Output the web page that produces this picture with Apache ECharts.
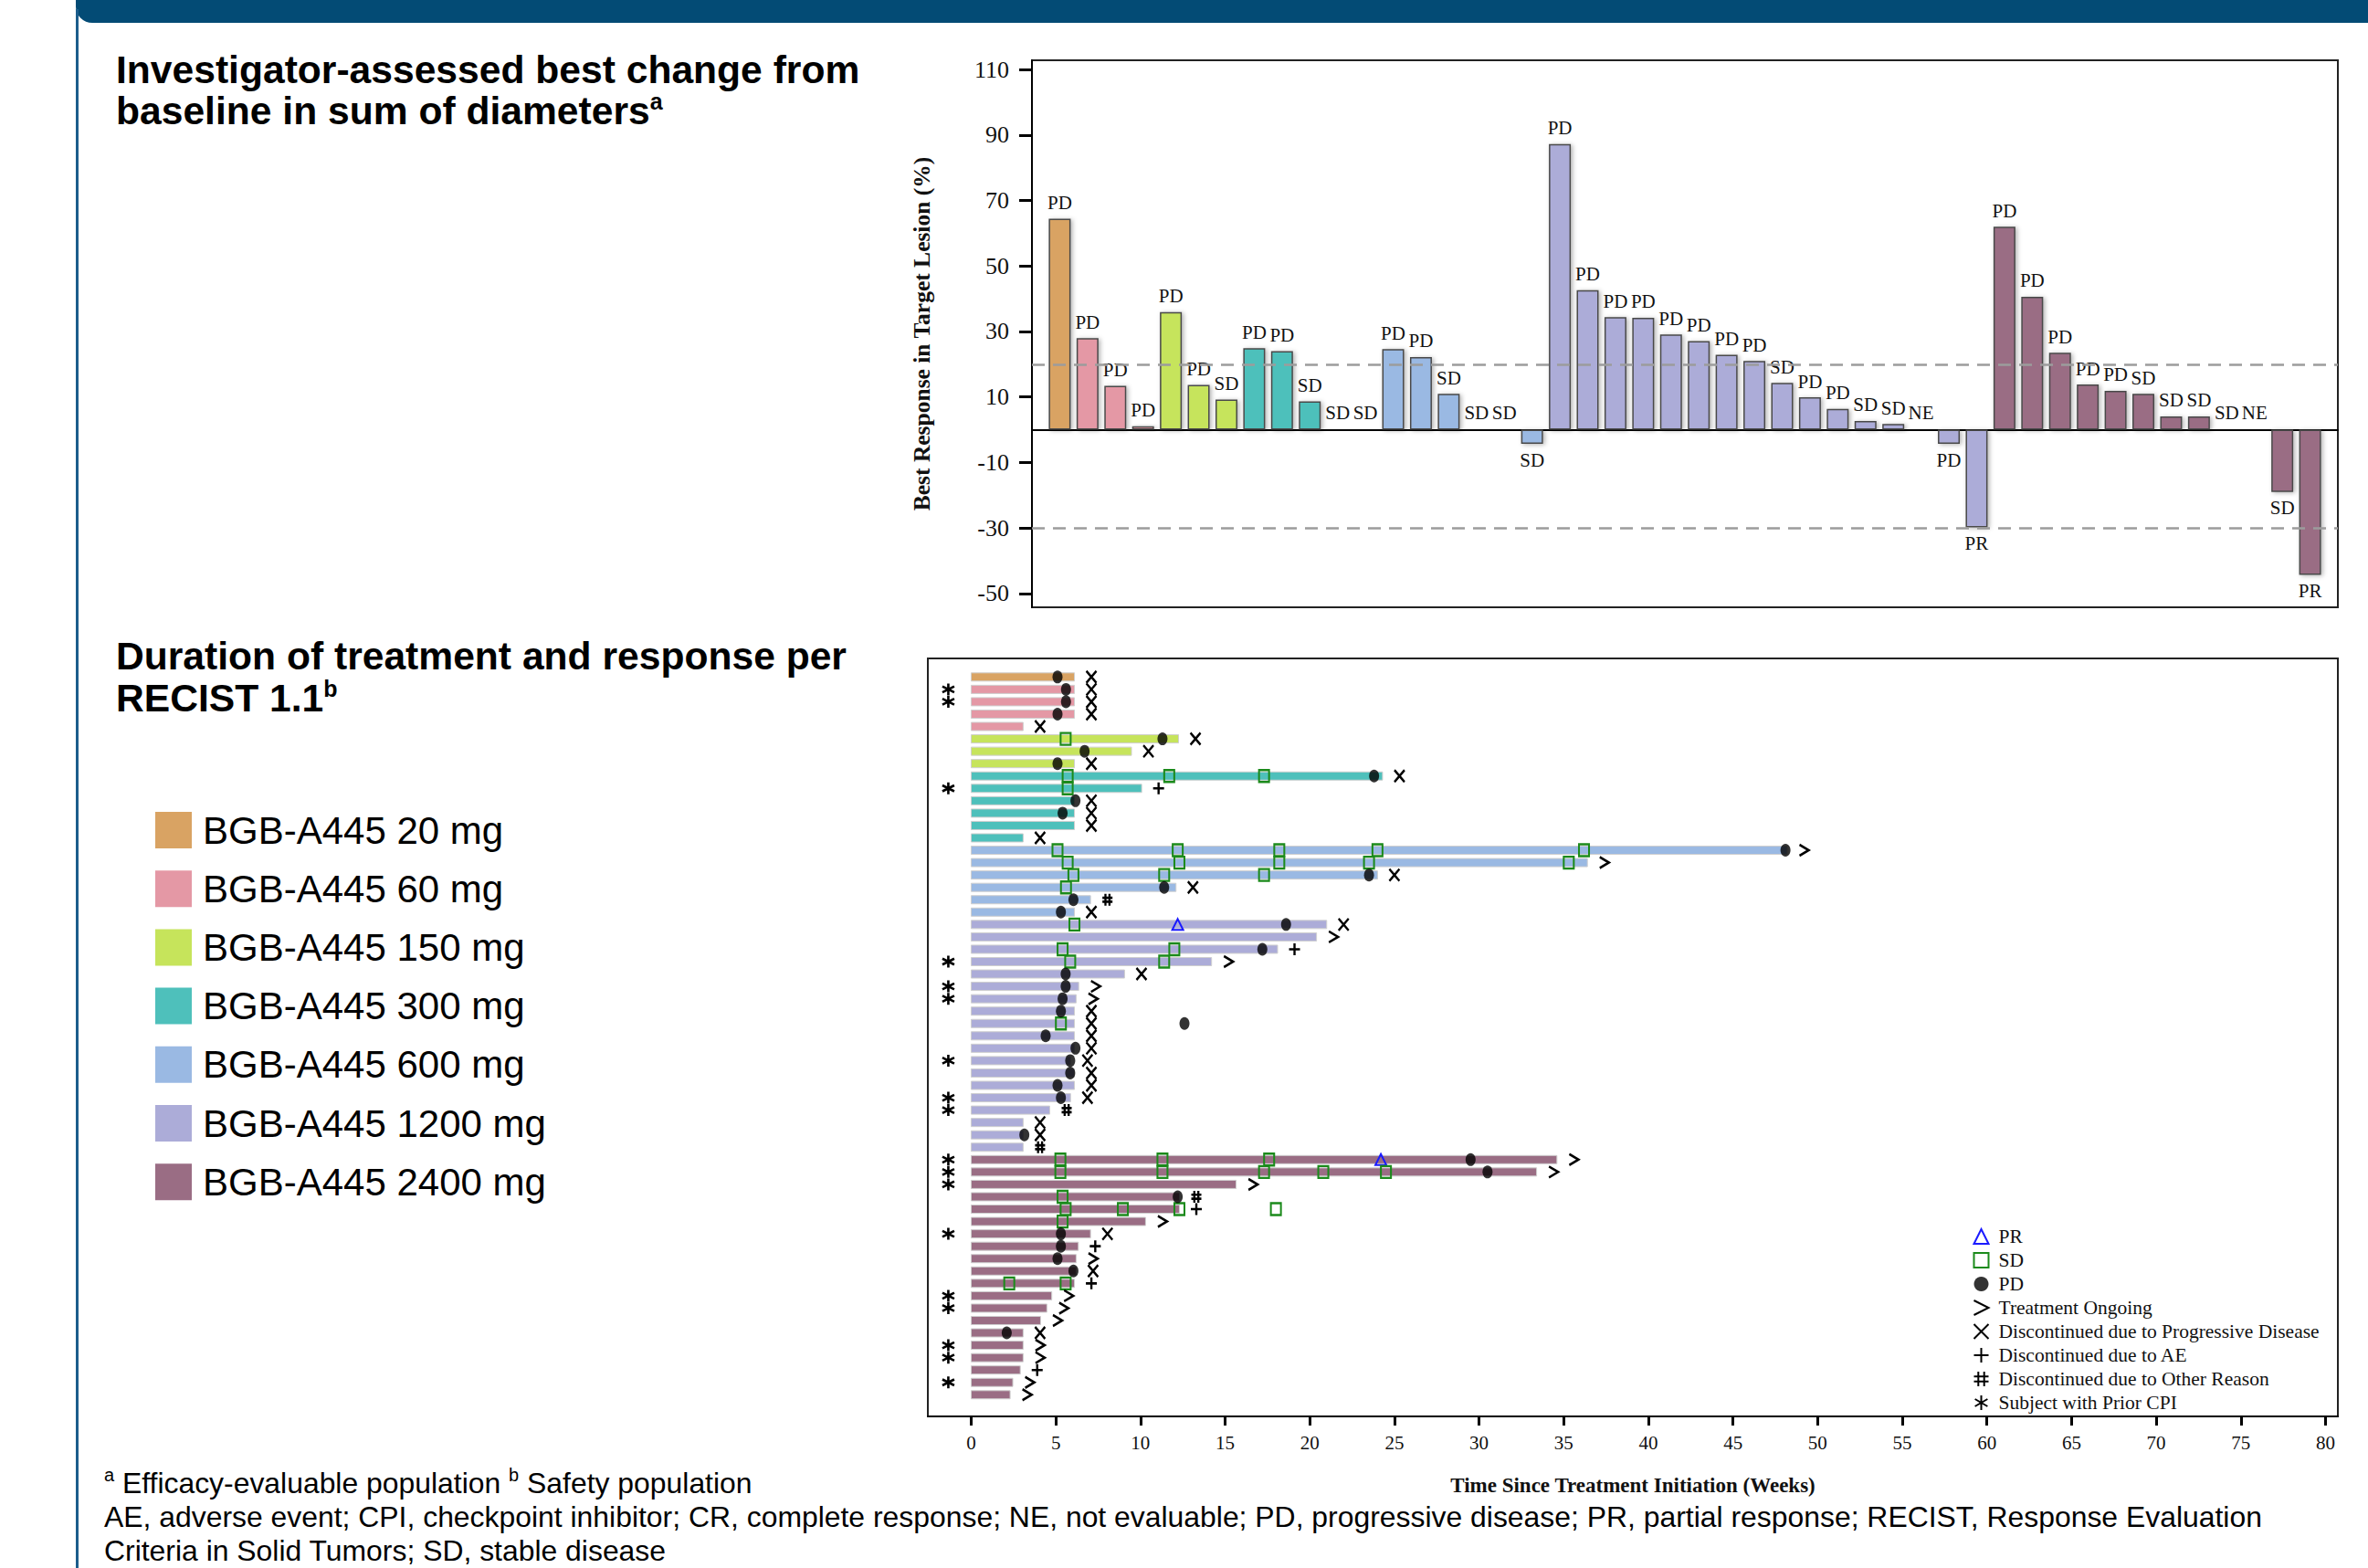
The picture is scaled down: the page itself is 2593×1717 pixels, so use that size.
<!DOCTYPE html>
<html><head><meta charset="utf-8">
<script src="https://cdn.jsdelivr.net/npm/echarts@6/dist/echarts.min.js"></script>
<style>html,body{margin:0;padding:0;background:#fff}#c{width:2593px;height:1717px}</style>
</head><body><div id="c"></div>
<script>
// ---------- categories ----------
const doseNames = ['BGB-A445 20 mg','BGB-A445 60 mg','BGB-A445 150 mg','BGB-A445 300 mg','BGB-A445 600 mg','BGB-A445 1200 mg','BGB-A445 2400 mg'];
const doseColors = ['#D9A363','#E498A5','#C6E45B','#4EC0BB','#9AB9E3','#ACACD8','#9A6D84'];

// ---------- waterfall (best change %) ----------
const wfValues = [64.4,28.0,13.4,1.1, 35.9,13.7,9.2, 24.9,24.0,8.7,0,0, 24.6,22.2,11.0,0,0,-4.3,
  87.2,42.6,34.4,34.2,29.1,27.1,22.9,21.0,14.3,9.9,6.4,2.7,1.8,0,-4.3,-29.8,
  62.0,40.6,23.5,13.8,11.9,11.0,4.1,4.1,0,0,-19.0,-44.3];
const wfResp = ['PD','PD','PD','PD','PD','PD','SD','PD','PD','SD','SD','SD','PD','PD','SD','SD','SD','SD',
  'PD','PD','PD','PD','PD','PD','PD','PD','SD','PD','PD','SD','SD','NE','PD','PR',
  'PD','PD','PD','PD','PD','SD','SD','SD','SD','NE','SD','PR'];
const wfDose = [0,1,1,1,2,2,2,3,3,3,3,3,4,4,4,4,4,4,
  5,5,5,5,5,5,5,5,5,5,5,5,5,5,5,5,
  6,6,6,6,6,6,6,6,6,6,6,6];
const wfTicks = [-50,-30,-10,10,30,50,70,90,110];
const wfRefLines = [20,-30];

// ---------- swimmer (weeks) ----------
const weekTicks = [0,5,10,15,20,25,30,35,40,45,50,55,60,65,70,75,80];
const swimDose = [0,1,1,1,1,2,2,2,3,3,3,3,3,3,4,4,4,4,4,4,
  5,5,5,5,5,5,5,5,5,5,5,5,5,5,5,5,5,5,5,
  6,6,6,6,6,6,6,6,6,6,6,6,6,6,6,6,6,6,6,6];
const swimWeeks = [6.1,6.1,6.1,6.1,3.07,12.25,9.47,6.1,24.3,10.07,6.1,6.1,6.1,3.07,48.2,36.4,24.0,12.1,7.05,6.1,
  21.0,20.4,18.1,14.2,9.06,6.35,6.2,6.1,6.1,6.1,6.1,5.87,6.1,6.1,5.87,4.64,3.07,3.07,3.07,
  34.6,33.4,15.65,12.3,12.3,10.3,7.05,6.33,6.2,6.2,6.1,4.76,4.47,4.1,3.07,3.07,3.07,2.9,2.46,2.3];
const swimEnd = ['X','X','X','X','X','X','X','X','X','+','X','X','X','X','>','>','X','X','#','X',
  'X','>','+','>','X','>','>','X','X','X','X','X','X','X','X','#','X','X','#',
  '>','>','>','#','+','>','X','+','>','X','+','>','>','>','X','>','>','+','>','>'];
const cpiRows = [2,3,10,24,26,27,32,35,36,40,41,42,46,51,52,55,56,58];
// [row, week]
const sdPoints = [[6,5.58],[9,5.7],[9,11.7],[9,17.3],[10,5.7],
  [15,5.1],[15,12.2],[15,18.2],[15,24.0],[15,36.2],
  [16,5.7],[16,12.3],[16,18.2],[16,23.5],[16,35.3],
  [17,6.04],[17,11.4],[17,17.3],[18,5.6],[21,6.1],[23,5.4],[23,12.0],[24,5.85],[24,11.4],[29,5.3],
  [40,5.27],[40,11.3],[40,17.6],[41,5.27],[41,11.3],[41,17.3],[41,20.8],[41,24.5],
  [43,5.4],[44,5.58],[44,8.96],[44,12.3],[44,18.0],[45,5.4],[50,2.25],[50,5.58]];
const pdPoints = [[1,5.1],[2,5.6],[3,5.6],[4,5.1],[6,11.3],[7,6.7],[8,5.1],[9,23.8],[11,6.16],[12,5.4],
  [15,48.1],[17,23.5],[18,11.4],[19,6.04],[20,5.3],[21,18.6],[23,17.2],[25,5.58],[26,5.58],[27,5.4],
  [28,5.3],[29,12.6],[30,4.4],[31,6.16],[32,5.85],[33,5.85],[34,5.1],[35,5.3],[38,3.14],
  [40,29.5],[41,30.5],[43,12.2],[46,5.3],[47,5.3],[48,5.1],[49,6.04],[54,2.1]];
const prPoints = [[21,12.2],[40,24.2]];

// ---------- styling ----------
const SERIF = 'Liberation Serif';
const SANS = 'Liberation Sans';
const endOffset = 1.0;    // end-of-treatment symbol sits one week after bar end
const cpiWeek = -1.35;    // prior-CPI column left of week 0
const endStyles = {
  '>': {name:'Treatment Ongoing', symbol:'path://M0,0L10,5L0,10', size:[10,12]},
  'X': {name:'Discontinued due to Progressive Disease', symbol:'path://M0,0L10,10M10,0L0,10', size:[11,13]},
  '+': {name:'Discontinued due to AE', symbol:'path://M5,0L5,10M0,5L10,5', size:[12,13]},
  '#': {name:'Discontinued due to Other Reason', symbol:'path://M3,0L3,10M7,0L7,10M0,3.3L10,3.3M0,6.7L10,6.7', size:[11,13]}
};

const chart = echarts.init(document.getElementById('c'), null, {renderer:'svg', width:2593, height:1717});

const wfSeries = doseNames.map((name, d) => ({
  type:'bar', name, xAxisIndex:0, yAxisIndex:0, barWidth:24, barGap:'-100%', z:3,
  itemStyle:{color:doseColors[d], borderColor:'#4a4a4a', borderWidth:1.5,
    shadowBlur:5, shadowColor:'rgba(0,0,0,0.3)', shadowOffsetX:2, shadowOffsetY:1},
  label:{show:true, fontFamily:SERIF, fontSize:21, color:'#111', distance:7,
    formatter: p => wfResp[p.data.slot - 1]},
  data: wfValues.map((v,i)=>({v,i})).filter(o=>wfDose[o.i]===d)
    .map(o=>({value:[o.i+1, o.v], slot:o.i+1, label:{position: o.v < 0 ? 'bottom' : 'top'}}))
}));
wfSeries[0].markLine = {
  silent:true, symbol:['none','none'], label:{show:false},
  lineStyle:{type:[14,9], color:'#9c9c9c', width:2.5},
  data: wfRefLines.map(v=>({yAxis:v}))
};

const strokeMark = (name, symbol, size, color, width, data) => ({
  type:'scatter', name, xAxisIndex:1, yAxisIndex:1, symbol, symbolSize:size, z:6,
  itemStyle:{color:'none', borderColor:color, borderWidth:width, opacity:1},
  data
});

const swimSeries = [{
  type:'custom', name:'swim', xAxisIndex:1, yAxisIndex:1, z:2,
  encode:{x:1, y:0},
  data: swimWeeks.map((w,i)=>[i+1, w, swimDose[i]]),
  renderItem:(params, api) => {
    const row = api.value(0), w = api.value(1), d = api.value(2);
    const p0 = api.coord([0, row]), p1 = api.coord([w, row]);
    const h = 9;
    return {type:'rect', shape:{x:p0[0], y:p0[1]-h/2, width:p1[0]-p0[0], height:h},
      style:{fill:doseColors[d], stroke:'#cfcfcf', lineWidth:1}};
  }
},
strokeMark('PR','path://M5,0L10,10L0,10Z',[12,12],'#1a1aff',2, prPoints.map(p=>[p[1],p[0]])),
strokeMark('SD','rect',[11,13],'#1b8a1b',2.2, sdPoints.map(p=>[p[1],p[0]])),
{type:'scatter', name:'PD', xAxisIndex:1, yAxisIndex:1, symbol:'circle', symbolSize:[11,14], z:7,
  itemStyle:{color:'#000'}, data: pdPoints.map(p=>[p[1],p[0]])}
];
['>','X','+','#'].forEach(code => {
  const s = endStyles[code];
  swimSeries.push(strokeMark(s.name, s.symbol, s.size, '#000', 2.5,
    swimWeeks.map((w,i)=> swimEnd[i]===code ? [w+endOffset, i+1] : null).filter(Boolean)));
});
swimSeries.push(strokeMark('Subject with Prior CPI','path://M5,0L5,10M0.7,2.5L9.3,7.5M0.7,7.5L9.3,2.5',[13,13],'#000',2.6,
  cpiRows.map(r=>[cpiWeek, r])));

const markerNames = ['PR','SD','PD','Treatment Ongoing','Discontinued due to Progressive Disease',
  'Discontinued due to AE','Discontinued due to Other Reason','Subject with Prior CPI'];

const option = {
  animation:false,
  backgroundColor:'#fff',
  grid:[
    {left:1130, top:66, width:1430, height:599, show:true, borderColor:'#222', borderWidth:2},
    {left:1016, top:721, width:1544, height:830, show:true, borderColor:'#222', borderWidth:2}
  ],
  xAxis:[
    {type:'value', gridIndex:0, min:0, max:47, splitLine:{show:false},
      axisLine:{show:true, onZero:true, lineStyle:{color:'#000', width:2}},
      axisTick:{show:false}, axisLabel:{show:false}},
    {type:'value', gridIndex:1, min:-2.56, max:80.73, splitLine:{show:false},
      axisLine:{show:true, onZero:false, lineStyle:{color:'#000', width:2}},
      axisTick:{show:true, customValues:weekTicks, length:10, lineStyle:{color:'#000', width:3}},
      axisLabel:{customValues:weekTicks, fontFamily:SERIF, fontSize:21, color:'#111', margin:18},
      name:'Time Since Treatment Initiation (Weeks)', nameLocation:'middle', nameGap:64,
      nameTextStyle:{fontFamily:SERIF, fontWeight:'bold', fontSize:23, color:'#111'}}
  ],
  yAxis:[
    {type:'value', gridIndex:0, min:-54.2, max:112.8, splitLine:{show:false},
      axisLine:{show:true, lineStyle:{color:'#000', width:2}},
      axisTick:{show:true, customValues:wfTicks, length:14, lineStyle:{color:'#000', width:3}},
      axisLabel:{customValues:wfTicks, fontFamily:SERIF, fontSize:26, color:'#111', margin:25},
      name:'Best Response in Target Lesion (%)', nameLocation:'middle', nameGap:108,
      nameTextStyle:{fontFamily:SERIF, fontWeight:'bold', fontSize:25.5, color:'#111'}},
    {type:'value', gridIndex:1, min:-0.5, max:60.75, inverse:true, show:false}
  ],
  legend:[
    {data:doseNames, orient:'vertical', left:170, top:888, padding:0, itemWidth:40, itemHeight:40, itemGap:22.2,
      icon:'rect', itemStyle:{borderWidth:0, shadowBlur:0},
      textStyle:{fontFamily:SANS, fontSize:42, color:'#000', padding:[0,0,0,7]}},
    {data:markerNames, orient:'vertical', left:2159, top:1343, padding:0, itemWidth:16, itemHeight:16, itemGap:4,
      textStyle:{fontFamily:SERIF, fontSize:21.5, lineHeight:21, color:'#111', padding:[0,0,0,6]}}
  ],
  graphic:[
    {type:'rect', shape:{x:83, y:-30, width:2530, height:55, r:[0,0,0,18]}, style:{fill:'#034b75'}},
    {type:'line', shape:{x1:84.5, y1:10, x2:84.5, y2:1717}, style:{stroke:'#1c5d8c', lineWidth:3}},
    {type:'text', x:127, y:53, style:{
      text:'{h|Investigator-assessed best change from}\n{h|baseline in sum of diameters}{s|a}',
      rich:{h:{fontFamily:SANS, fontWeight:'bold', fontSize:42.6, lineHeight:45, fill:'#000'},
            s:{fontFamily:SANS, fontWeight:'bold', fontSize:25, lineHeight:45, verticalAlign:'top', fill:'#000'}}}},
    {type:'text', x:127, y:695, style:{
      text:'{h|Duration of treatment and response per}\n{h|RECIST 1.1}{s|b}',
      rich:{h:{fontFamily:SANS, fontWeight:'bold', fontSize:42.6, lineHeight:46, fill:'#000'},
            s:{fontFamily:SANS, fontWeight:'bold', fontSize:25, lineHeight:46, verticalAlign:'top', fill:'#000'}}}},
    {type:'text', x:114, y:1605, style:{
      text:'{s|a}{f| Efficacy-evaluable population }{s|b}{f| Safety population}\n{f|AE, adverse event; CPI, checkpoint inhibitor; CR, complete response; NE, not evaluable; PD, progressive disease; PR, partial response; RECIST, Response Evaluation}\n{f|Criteria in Solid Tumors; SD, stable disease}',
      rich:{f:{fontFamily:SANS, fontSize:31.9, lineHeight:37, fill:'#000'},
            s:{fontFamily:SANS, fontSize:20, lineHeight:37, verticalAlign:'top', fill:'#000'}}}}
  ],
  series:[...wfSeries, ...swimSeries]
};
chart.setOption(option);
</script></body></html>
